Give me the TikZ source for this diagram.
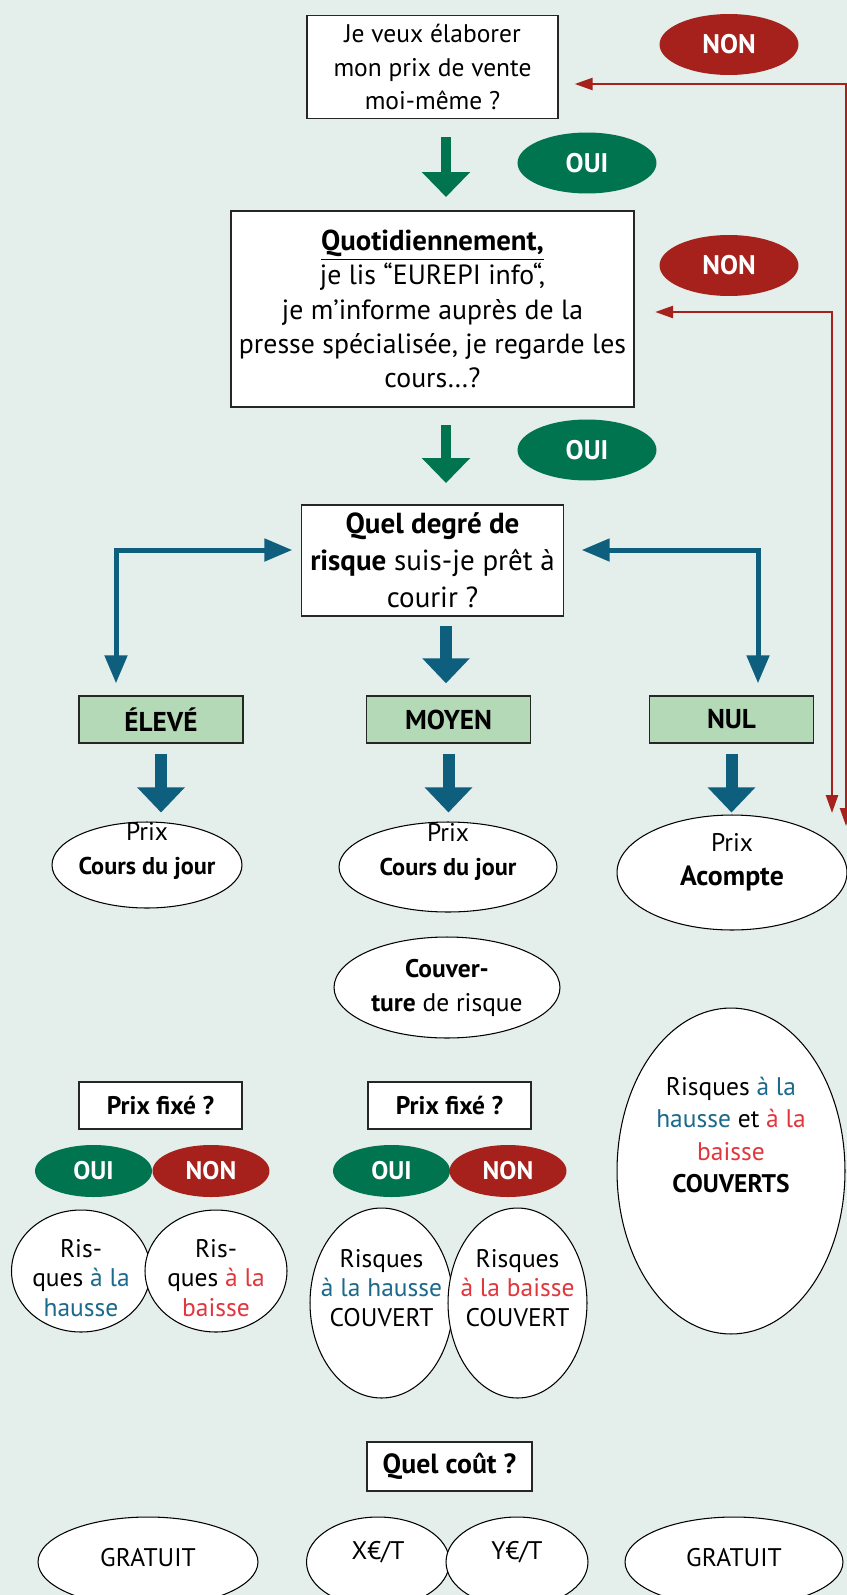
\documentclass[tikz,border=0pt]{standalone}
\usepackage{fontspec}
\setmainfont{PT Sans}
\usetikzlibrary{shapes.geometric,arrows.meta}

\definecolor{fond}{HTML}{E4EEEA}
\definecolor{vertoui}{HTML}{00734F}
\definecolor{rougenon}{HTML}{A6201C}
\definecolor{bleufl}{HTML}{0E5F7E}
\definecolor{vertclair}{HTML}{B3D9B6}
\definecolor{txtbleu}{HTML}{1B6A8C}
\definecolor{txtrouge}{HTML}{E2363D}

\newcommand{\tf}{\fontsize{14.5}{19.3}\selectfont}
\newcommand{\tg}{\fontsize{15.8}{19.6}\selectfont}
\newcommand{\tc}{\fontsize{14.5}{17}\selectfont}
\newcommand{\taille}[2]{{\fontsize{#1}{19.3}\selectfont #2}}
\newcommand{\hausse}[1]{\textcolor{txtbleu}{#1}}
\newcommand{\baisse}[1]{\textcolor{txtrouge}{#1}}

\tikzset{
  every node/.style={font=\tf},
  question/.style={draw=black!85, fill=white, line width=0.8pt, align=center, inner sep=0pt},
  niveau/.style={draw=black!85, fill=vertclair, line width=0.8pt, font=\fontsize{15.5}{19}\selectfont\bfseries,
    inner sep=0pt, minimum width=3.28cm, minimum height=0.94cm},
  oui/.style={ellipse, fill=vertoui, text=white, font=\fontsize{15.3}{19}\selectfont\bfseries, inner sep=0pt,
    minimum width=2.78cm, minimum height=1.22cm},
  non/.style={oui, fill=rougenon},
  petitoui/.style={oui, font=\tf\bfseries, minimum width=2.34cm, minimum height=1.04cm},
  petitnon/.style={petitoui, fill=rougenon},
  oval/.style={ellipse, draw=black, fill=white, line width=0.6pt, inner sep=0pt},
  txt/.style={align=center, inner sep=0pt},
  flecheverte/.style={draw=vertoui, line width=0.2cm, -{Triangle[length=0.5cm, width=0.94cm]}},
  flechebleue/.style={draw=bleufl, line width=0.24cm, -{Triangle[length=0.5cm, width=0.92cm]}},
  coude/.style={draw=bleufl, line width=0.1cm, miter limit=10,
    {Triangle[length=0.56cm, width=0.44cm]}-{Triangle[length=0.56cm, width=0.44cm]}},
  retour/.style={draw=rougenon, line width=0.05cm,
    {Triangle[length=0.36cm, width=0.24cm]}-{Triangle[length=0.36cm, width=0.24cm]}},
}

\begin{document}
\begin{tikzpicture}[x=0.02cm, y=-0.02cm]
  \clip (0,0) rectangle (847,1595);
  \fill[fond] (0,0) rectangle (847,1595);

  % questions du haut
  \node[question, minimum width=5.02cm, minimum height=2.06cm] (q1) at (432.5,67)
    {Je veux élaborer\\mon prix de vente\\moi-même ?};
  \node[question, font=\tg, minimum width=8.06cm, minimum height=3.92cm] (q2) at (432.5,309)
    {\taille{16.4}{\underline{\textbf{Quotidiennement,}}}\\je lis “EUREPI info“,\\je m’informe auprès de la\\presse spécialisée, je regarde les\\cours…?};
  \node[question, font=\fontsize{16.5}{21}\selectfont, minimum width=5.24cm, minimum height=2.22cm] (q3) at (432.5,560.5)
    {\textbf{Quel degré de}\\\textbf{risque} suis-je prêt à\\courir ?};

  \node[non] (non1) at (729,44.5) {NON};
  \node[oui] (oui1) at (587,163) {OUI};
  \node[non] (non2) at (729,265.5) {NON};
  \node[oui] (oui2) at (587,450) {OUI};

  \coordinate (a1) at (446,137);
  \coordinate (a2) at (446,425);
  \draw[flecheverte] (a1) -- ++(0,60);
  \draw[flecheverte] (a2) -- ++(0,58);

  % niveaux de risque
  \node[niveau] (eleve) at (161,719.5) {ÉLEVÉ};
  \node[niveau] (moyen) at (448.5,719.5) {MOYEN};
  \node[niveau] (nul) at (731.5,719.5) {NUL};

  \coordinate (cg) at (116,550);
  \coordinate (cd) at (758,550);
  \draw[coude, shorten <=0.17cm, shorten >=0.24cm] (cg -| q3.west) -- (cg) -- (cg |- eleve.north);
  \draw[coude, shorten <=0.35cm, shorten >=0.24cm] (cd -| q3.east) -- (cd) -- (cd |- nul.north);
  \draw[flechebleue, shorten <=0.18cm, shorten >=0.24cm] (q3.south -| 446,0) -- (moyen.north -| 446,0);

  % prix
  \node[oval, minimum width=3.8cm, minimum height=1.72cm] (prL) at (147,865) {};
  \node[txt] (prLt) at (147,851) {Prix\\\taille{13.8}{\textbf{Cours du jour}}};
  \node[oval, minimum width=4.36cm, minimum height=1.8cm] (prM) at (448,867) {};
  \node[txt] (prMt) at (448,852) {Prix\\\taille{13.8}{\textbf{Cours du jour}}};
  \node[oval, minimum width=4.52cm, minimum height=2.02cm] (couv) at (447,987.5) {};
  \node[txt] (couvt) at (447,988) {\textbf{Couver-}\\\textbf{ture} de risque};
  \node[oval, minimum width=4.6cm, minimum height=2.3cm] (prN) at (732,872.5) {};
  \node[txt] (prNt) at (732,862) {Prix\\\taille{15.8}{\textbf{Acompte}}};

  \draw[flechebleue, shorten <=0.2cm, shorten >=0.18cm] (eleve.south) -- (eleve.south |- prL.north);
  \draw[flechebleue, shorten <=0.2cm, shorten >=0.18cm] (moyen.south) -- (moyen.south |- prM.north);
  \draw[flechebleue, shorten <=0.2cm, shorten >=0.04cm] (nul.south) -- (nul.south |- prN.north);

  % retours NON
  \coordinate (r1) at (846,84);
  \coordinate (r1b) at (846,826);
  \coordinate (r2) at (832,312);
  \coordinate (r2b) at (832,813);
  \draw[retour, shorten <=0.32cm] (q1.east |- r1) -- (r1) -- (r1b);
  \draw[retour, shorten <=0.41cm] (q2.east |- r2) -- (r2) -- (r2b);

  % prix fixe ?
  \node[question, minimum width=3.26cm, minimum height=0.94cm, font=\tf\bfseries] (pfL) at (160.5,1105.5) {Prix fixé ?};
  \node[question, minimum width=3.26cm, minimum height=0.94cm, font=\tf\bfseries] (pfM) at (449.5,1105.5) {Prix fixé ?};
  \node[petitoui] (ouiL) at (93.5,1171) {OUI};
  \node[petitnon] (nonL) at (211,1171) {NON};
  \node[petitoui] (ouiM) at (391.5,1171) {OUI};
  \node[petitnon] (nonM) at (508,1171) {NON};

  \node[oval, minimum width=2.78cm, minimum height=2.44cm] (rhL) at (81,1271) {};
  \node[txt, font=\tc] (rhLt) at (81,1278) {Ris-\\ques \hausse{à la}\\\hausse{hausse}};
  \node[oval, minimum width=2.84cm, minimum height=2.44cm] (rbL) at (216,1271) {};
  \node[txt, font=\tc] (rbLt) at (216,1278) {Ris-\\ques \baisse{à la}\\\baisse{baisse}};
  \node[oval, minimum width=2.86cm, minimum height=3.8cm] (rhM) at (381.5,1303) {};
  \node[txt, font=\tc] (rhMt) at (381.5,1288) {Risques\\\hausse{à la hausse}\\COUVERT};
  \node[oval, minimum width=2.78cm, minimum height=3.8cm] (rbM) at (517.5,1303) {};
  \node[txt, font=\tc] (rbMt) at (517.5,1288) {Risques\\\baisse{à la baisse}\\COUVERT};

  \node[oval, minimum width=4.56cm, minimum height=6.52cm] (rN) at (731,1171) {};
  \node[txt, font=\fontsize{14.5}{18.5}\selectfont] (rNt) at (731,1135)
    {Risques \hausse{à la}\\\hausse{hausse} et \baisse{à la}\\\baisse{baisse}\\\textbf{COUVERTS}};

  % cout
  \node[question, minimum width=3.3cm, minimum height=0.98cm, font=\fontsize{15.8}{19}\selectfont\bfseries] (cout) at (449.5,1466.5) {Quel coût ?};
  \node[oval, minimum width=4.4cm, minimum height=1.8cm] (gL) at (148,1562) {};
  \node[txt] (gLt) at (148,1558) {GRATUIT};
  \node[oval, minimum width=2.86cm, minimum height=1.8cm] (xT) at (378,1562) {};
  \node[txt] (xTt) at (378,1552) {X€/T};
  \node[oval, minimum width=2.84cm, minimum height=1.8cm] (yT) at (517,1562) {};
  \node[txt] (yTt) at (517,1552) {Y€/T};
  \node[oval, minimum width=4.36cm, minimum height=1.8cm] (gR) at (734,1562) {};
  \node[txt] (gRt) at (734,1558) {GRATUIT};
\end{tikzpicture}
\end{document}
